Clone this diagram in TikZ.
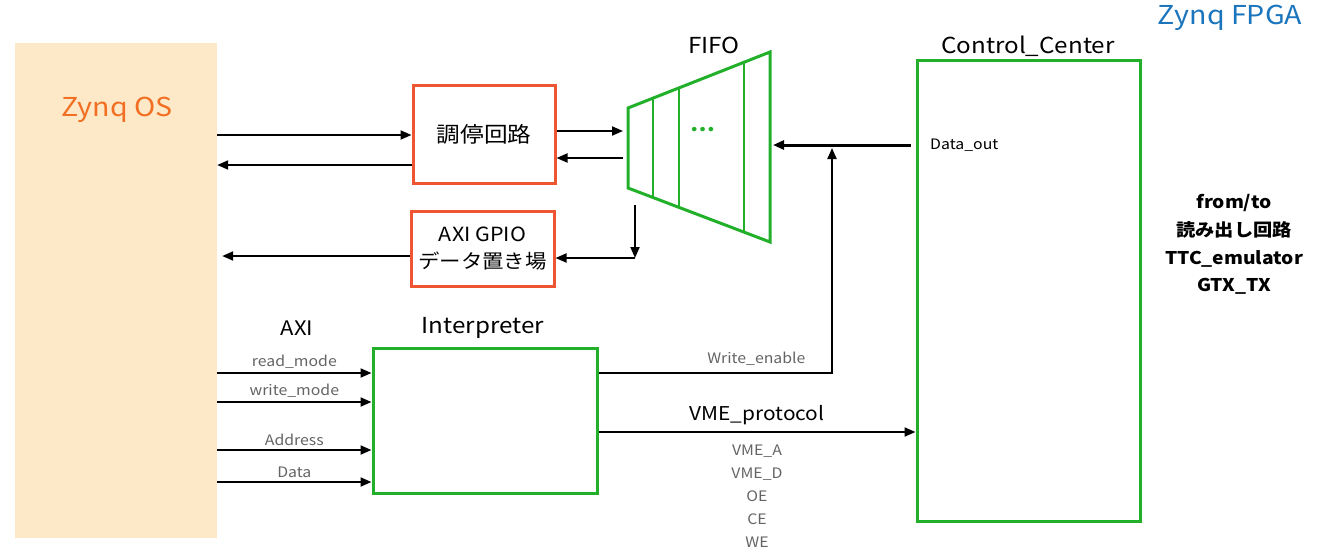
\documentclass[tikz,border=0pt]{standalone}
\usepackage{fontspec}
\setmainfont[FakeStretch=1.1]{Noto Sans CJK JP}
\usetikzlibrary{arrows.meta,calc}

\definecolor{zgreen}{RGB}{34,176,42}
\definecolor{zred}{RGB}{238,85,51}
\definecolor{osfill}{RGB}{253,233,199}
\definecolor{osorange}{RGB}{242,110,34}
\definecolor{fpgablue}{RGB}{27,117,188}
\definecolor{lblgray}{RGB}{100,100,100}

\begin{document}
\begin{tikzpicture}[x=1pt,y=-1pt,
  arr/.style={line width=2pt,-{Triangle[length=11pt,width=9pt]}},
  redbox/.style={draw=zred,line width=3pt,inner sep=0pt},
  greenbox/.style={draw=zgreen,line width=3pt,inner sep=0pt},
  big/.style={font=\fontsize{22}{27}\selectfont},
  lbl/.style={font=\fontsize{14.4}{23}\selectfont,text=lblgray,inner sep=2pt}]
 \useasboundingbox (0,0) rectangle (1332,549);

 \node[fill=osfill,minimum width=202pt,minimum height=495pt] (os) at (116,290.5) {};
 \node[font=\fontsize{26}{30}\selectfont,text=osorange] (ostitle) at (117,110) {Zynq OS};
 \node[font=\fontsize{26}{30}\selectfont,text=fpgablue] (fpga) at (1230,18) {Zynq FPGA};

 \node[redbox,minimum width=142pt,minimum height=98pt,font=\fontsize{21.5}{27}\selectfont] (chousei) at (484,134) {調停回路};
 \node[redbox,minimum width=143pt,minimum height=75pt,font=\fontsize{19.5}{27}\selectfont,align=center] (gpio) at (482.5,248.5) {AXI GPIO\\データ置き場};

 \node[greenbox,minimum width=224pt,minimum height=145pt] (interp) at (485,420.5) {};
 \node[big] (interptitle) at (483,328) {Interpreter};
 \node[font=\fontsize{20}{24}\selectfont] (axi) at (297,328) {AXI};

 \node[greenbox,minimum width=223pt,minimum height=461pt] (cc) at (1028.5,290.5) {};
 \node[big] (cctitle) at (1028,46) {Control\_Center};
 \node[font=\fontsize{14.4}{16}\selectfont,anchor=west,inner sep=0pt] (dout) at (930,145) {Data\_out};
 \node[font=\bfseries\fontsize{17.5}{27.7}\selectfont,align=center] (ext) at (1234,244.5) {from/to\\読み出し回路\\TTC\_emulator\\GTX\_TX};

 \coordinate (fifo-a) at (628,108);
 \coordinate (fifo-b) at (770,52);
 \coordinate (fifo-c) at (770,242);
 \coordinate (fifo-d) at (628,188);
 \draw[zgreen,line width=3pt] (fifo-a) -- (fifo-b) -- (fifo-c) -- (fifo-d) -- cycle;
 \foreach \f in {0.176,0.359,0.817}
   \draw[zgreen,line width=2pt] ($(fifo-a)!\f!(fifo-b)$) -- ($(fifo-d)!\f!(fifo-c)$);
 \node[big] (fifotitle) at (714,45) {FIFO};
 \node[text=zgreen,font=\bfseries\fontsize{20}{20}\selectfont] (dots) at (703,130) {…};

 \coordinate (c1) at ([yshift=-1pt]chousei.west);
 \coordinate (c2) at ([yshift=-31pt]chousei.west);
 \draw[arr] (c1 -| os.east) -- (c1);
 \draw[arr] (c2) -- (c2 -| os.east);

 \coordinate (f1) at ([yshift=3pt]chousei.east);
 \coordinate (f2) at ([yshift=-24pt]chousei.east);
 \draw[arr,shorten >=5pt] (f1) -- (f1 -| fifo-a);
 \draw[arr,shorten <=5pt] (f2 -| fifo-a) -- (f2);

 \coordinate (fifo-out) at (635,205);
 \coordinate (g1) at ([yshift=-9.5pt]gpio.east);
 \coordinate (g2) at ([yshift=-7.5pt]gpio.west);
 \draw[arr] (fifo-out) -- (fifo-out |- g1);
 \draw[arr] (fifo-out |- g1) -- (g1);
 \draw[arr,shorten >=5pt] (g2) -- (g2 -| os.east);

 \draw[arr,line width=3pt,shorten <=5pt,shorten >=3pt] (cc.west |- dout) -- (fifo-b |- dout);

 \coordinate (we) at ([yshift=47.5pt]interp.east);
 \coordinate (wj) at (832,148);
 \draw[arr] (we) -| node[lbl,pos=0.338,above=4pt] (welbl) {Write\_enable} (wj);

 \coordinate (vme) at ([yshift=-11.5pt]interp.east);
 \draw[arr] (vme) -- node[font=\fontsize{19}{22}\selectfont,inner sep=2pt,above=4pt] (vmelbl) {VME\_protocol} (vme -| cc.west);
 \node[lbl,align=center] (vmesig) at (757,496) {VME\_A\\VME\_D\\OE\\CE\\WE};

 \foreach \dy/\lab in {47.5/read\_mode,18.5/write\_mode,-29.5/Address,-61.5/Data} {
   \coordinate (in) at ([yshift=\dy pt]interp.west);
   \draw[arr] (in -| os.east) -- node[lbl,above=1pt] {\lab} (in);
 }
\end{tikzpicture}
\end{document}
